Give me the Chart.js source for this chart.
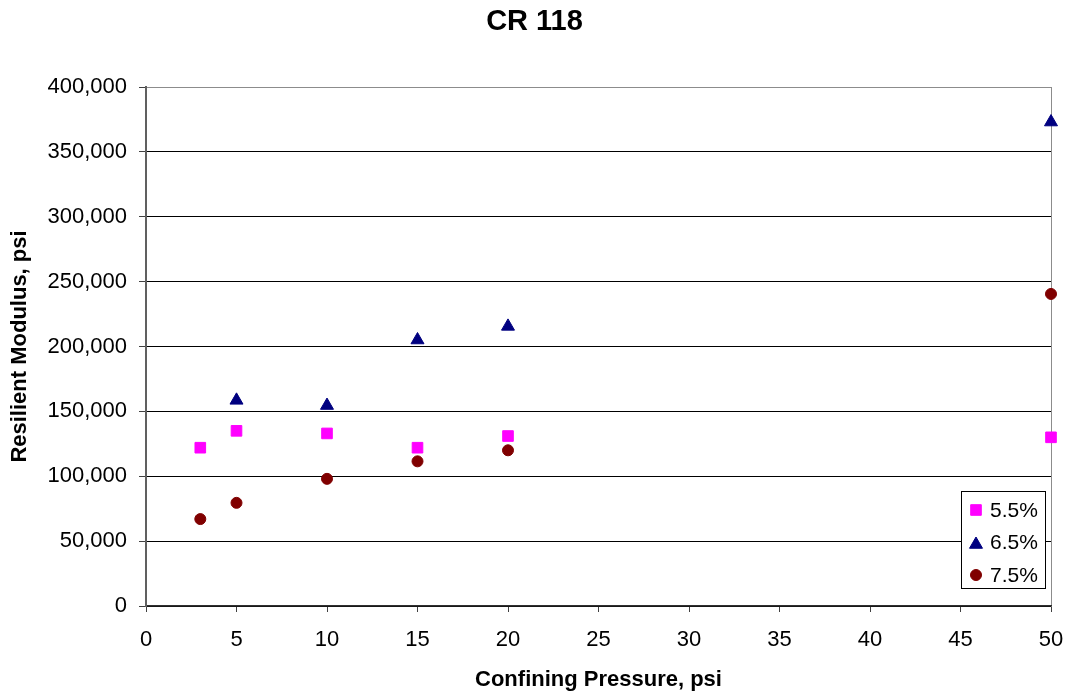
<!DOCTYPE html>
<html>
<head>
<meta charset="utf-8">
<script src="https://cdn.jsdelivr.net/npm/chart.js@4/dist/chart.umd.min.js"></script>
<style>
  html, body { margin: 0; padding: 0; background: #fff; }
  #wrap { width: 1069px; height: 698px; position: relative; }
</style>
</head>
<body>
<div id="wrap"><canvas id="c"></canvas></div>
<script>
// ---- Data ----
const chartTitle = 'CR 118';
const xAxisTitle = 'Confining Pressure, psi';
const yAxisTitle = 'Resilient Modulus, psi';
const seriesNames = ['5.5%', '6.5%', '7.5%'];

const x55 = [3, 5, 10, 15, 20, 50];
const y55 = [122000, 135000, 133000, 122000, 131000, 130000];

const x65 = [5, 10, 15, 20, 50];
const y65 = [158500, 154500, 205000, 215500, 373000];

const x75 = [3, 5, 10, 15, 20, 50];
const y75 = [67000, 79500, 98000, 111500, 120000, 240500];

const xTicks = [0, 5, 10, 15, 20, 25, 30, 35, 40, 45, 50];
const yTicks = [0, 50000, 100000, 150000, 200000, 250000, 300000, 350000, 400000];

const FONT = "'Liberation Sans', Arial, Helvetica, sans-serif";

function pts(xs, ys) { return xs.map((x, i) => ({ x: x, y: ys[i] })); }

// Legend drawn inside plot area (bottom-right), like the reference
const insideLegend = {
  id: 'insideLegend',
  afterDraw(chart) {
    const ctx = chart.ctx;
    const area = chart.chartArea;
    const w = 84, h = 97;
    const right = area.right - 6.5;
    const bottom = area.bottom - 18;
    const left = Math.round(right - w) + 0.5;
    const top = Math.round(bottom - h) + 0.5;
    ctx.save();
    ctx.fillStyle = '#ffffff';
    ctx.fillRect(left, top, w, h);
    ctx.strokeStyle = '#000000';
    ctx.lineWidth = 1;
    ctx.strokeRect(left, top, w, h);
    ctx.font = '21px ' + FONT;
    ctx.textBaseline = 'middle';
    ctx.textAlign = 'left';
    chart.data.datasets.forEach((ds, i) => {
      const cy = top + 18.5 + i * 32.5;
      const cx = left + 14.5;
      ctx.fillStyle = ds.backgroundColor;
      ctx.strokeStyle = ds.borderColor;
      ctx.lineWidth = 1;
      Chart.helpers.drawPoint(ctx, {
        pointStyle: ds.pointStyle,
        radius: ds.pointRadius,
        borderWidth: 1,
        rotation: 0
      }, cx, cy + (ds.pointStyle === 'triangle' ? 2 : 0));
      ctx.fillStyle = '#000000';
      ctx.fillText(ds.label, left + 28.5, cy + 1);
    });
    ctx.restore();
  }
};

new Chart(document.getElementById('c'), {
  type: 'scatter',
  data: {
    datasets: [
      {
        label: seriesNames[0],
        data: pts(x55, y55),
        pointStyle: 'rect',
        pointRadius: 7.5,
        backgroundColor: '#FF00FF',
        borderColor: '#FF00FF',
        borderWidth: 1,
        clip: false
      },
      {
        label: seriesNames[1],
        data: pts(x65, y65),
        pointStyle: 'triangle',
        pointRadius: 7.5,
        backgroundColor: '#000080',
        borderColor: '#000080',
        borderWidth: 1,
        clip: false
      },
      {
        label: seriesNames[2],
        data: pts(x75, y75),
        pointStyle: 'circle',
        pointRadius: 5.5,
        backgroundColor: '#800000',
        borderColor: '#800000',
        borderWidth: 1,
        clip: false
      }
    ]
  },
  options: {
    responsive: true,
    maintainAspectRatio: false,
    animation: false,
    devicePixelRatio: 1,
    layout: { padding: { left: 0, right: 0, top: 0, bottom: 0 } },
    plugins: {
      legend: { display: false },
      tooltip: { enabled: false },
      title: {
        display: true,
        text: chartTitle,
        color: '#000000',
        font: { family: FONT, size: 29, weight: 'bold', lineHeight: 1.2 },
        padding: { top: 5, bottom: 47.2 }
      }
    },
    scales: {
      x: {
        type: 'linear',
        min: 0,
        max: 50,
        afterBuildTicks(scale) { scale.ticks = xTicks.map(v => ({ value: v })); },
        afterFit(scale) { scale.height = 92; scale.paddingLeft = 0; scale.paddingRight = 18; },
        ticks: {
          color: '#000000',
          font: { family: FONT, size: 22 },
          padding: 15,
          maxRotation: 0,
          autoSkip: false
        },
        grid: {
          color: (c) => (c.tick && c.tick.value === 50 ? '#8c8c8c' : 'rgba(0,0,0,0)'),
          tickColor: '#404040',
          tickLength: 6,
          lineWidth: 1
        },
        border: { display: true, color: '#303030', width: 1.5 },
        title: {
          display: true,
          text: xAxisTitle,
          color: '#000000',
          font: { family: FONT, size: 22, weight: 'bold', lineHeight: 1.2 },
          padding: { top: 0, bottom: 5 }
        }
      },
      y: {
        type: 'linear',
        min: 0,
        max: 400000,
        afterBuildTicks(scale) { scale.ticks = yTicks.map(v => ({ value: v })); },
        afterFit(scale) { scale.width = 146; scale.paddingTop = 0; scale.paddingBottom = 0; },
        ticks: {
          color: '#000000',
          font: { family: FONT, size: 22 },
          padding: 12,
          callback: (v) => v.toLocaleString('en-US')
        },
        grid: {
          color: (c) => (c.tick && c.tick.value === 400000 ? '#8c8c8c' : '#000000'),
          tickColor: '#404040',
          tickLength: 7,
          lineWidth: 1
        },
        border: { display: true, color: '#606060', width: 2 },
        title: {
          display: true,
          text: yAxisTitle,
          color: '#000000',
          font: { family: FONT, size: 22, weight: 'bold', lineHeight: 1.2 },
          padding: { top: 7, bottom: 0 }
        }
      }
    }
  },
  plugins: [insideLegend]
});
</script>
</body>
</html>
